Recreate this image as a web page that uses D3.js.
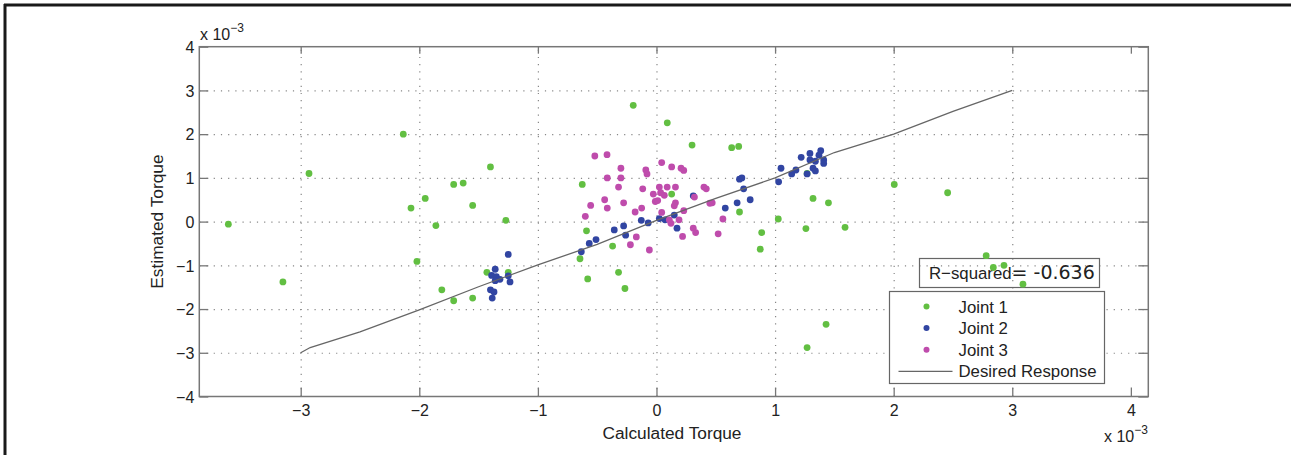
<!DOCTYPE html>
<html>
  <head>
    <meta charset="utf-8">
    <title>Estimated vs calculated torque</title>
    <script src="https://d3js.org/d3.v7.min.js" charset="utf-8"></script>
    <style>
      body{
        margin: 0;
        background: white;
        font-family: 'Liberation Sans', Arial, sans-serif;
      }
      .axis path{ display: none; }
      .axis line{ stroke: #777; stroke-width: 1.3; }
      .grid line{
        stroke: #888;
        stroke-width: 1.2;
        stroke-dasharray: 1.2 6;
      }
      .grid path{ display: none; }
    </style>
  </head>
  <body>
    <div id="chart"></div>
    <script>

    //********************
    // data (values in units of 1e-3)
    //********************

    var xTicks = [-3, -2, -1, 0, 1, 2, 3, 4];
    var yTicks = [-4, -3, -2, -1, 0, 1, 2, 3, 4];

    var joint1X = [-3.61, -2.93, -2.135, -2.07, -3.15, -2.02, -0.196, 0.091, 0.30, -1.40, -1.71, -1.63, -1.95, -1.55,
                   -0.626, 0.128, -1.86, -1.27, -0.59, -0.37, -0.645, -1.43, -1.25, -0.32, -0.58, -0.266, -1.81, -1.55,
                   -1.71, 0.634, 0.693, 1.27, 2.005, 2.455, 1.32, 1.45, 0.70, 1.027, 1.26, 1.59, 0.887, 0.875,
                   2.78, 2.84, 2.93, 3.09, 1.43, 1.27];
    var joint1Y = [-0.06, 1.10, 2.0, 0.31, -1.38, -0.91, 2.66, 2.26, 1.75, 1.25, 0.85, 0.88, 0.53, 0.37,
                   0.85, 0.63, -0.09, 0.03, -0.21, -0.56, -0.85, -1.16, -1.16, -1.16, -1.31, -1.53, -1.56, -1.75,
                   -1.81, 1.69, 1.72, 1.10, 0.85, 0.66, 0.53, 0.43, 0.22, 0.06, -0.16, -0.13, -0.25, -0.63,
                   -0.78, -1.05, -1.0, -1.43, -2.35, -2.88];

    var joint2X = [0.31, -0.128, -0.07, 0.024, 0.072, 0.15, 0.173, -0.277, -0.356, -0.26, -0.51, -0.567, -0.634,
                   -1.25, -1.36, -1.39, -1.35, -1.32, -1.36, -1.25, -1.235, -1.40, -1.37, -1.385,
                   1.22, 1.294, 1.385, 1.37, 1.294, 1.34, 1.41, 1.41, 1.05, 1.176, 1.14, 1.32, 1.34, 1.27,
                   1.03, 0.70, 0.72, 0.735, 0.79, 0.68, 0.58];
    var joint2Y = [0.59, 0.03, -0.03, 0.07, 0.04, 0.15, -0.15, -0.10, -0.19, -0.31, -0.41, -0.50, -0.69,
                   -0.75, -1.09, -1.23, -1.26, -1.32, -1.35, -1.24, -1.38, -1.56, -1.61, -1.75,
                   1.47, 1.56, 1.62, 1.52, 1.41, 1.38, 1.41, 1.33, 1.22, 1.18, 1.09, 1.22, 1.16, 1.09,
                   0.91, 0.97, 1.0, 0.75, 0.50, 0.43, 0.31];

    var joint3X = [-0.52, -0.417, -0.30, -0.09, -0.08, 0.044, 0.128, 0.207, 0.23, -0.415, -0.30, -0.32, -0.116,
                   0.024, 0.09, 0.16, 0.035, 0.066, -0.027, 0.40, 0.42, -0.437, -0.277, -0.01, 0.01, 0.16, 0.15,
                   0.32, 0.45, 0.47, -0.555, -0.415, -0.125, -0.18, -0.60, 0.044, 0.23, 0.108, 0.122, 0.19,
                   0.31, 0.33, 0.52, -0.17, 0.22, -0.22, -0.06, 0.56];
    var joint3Y = [1.50, 1.53, 1.22, 1.18, 1.09, 1.35, 1.25, 1.22, 1.17, 1.0, 1.0, 0.79, 0.75,
                   0.79, 0.79, 0.79, 0.66, 0.60, 0.63, 0.79, 0.75, 0.50, 0.43, 0.46, 0.48, 0.43, 0.36,
                   0.56, 0.42, 0.43, 0.37, 0.31, 0.31, 0.22, 0.12, 0.21, 0.25, 0.04, -0.04, 0.04,
                   -0.15, -0.25, -0.28, -0.35, -0.34, -0.53, -0.65, 0.06];

    var desiredX = [-3, -2.92, -2.5, -2, -1.5, -1, -0.5, 0, 0.5, 1, 1.5, 2, 2.5, 3];
    var desiredY = [-3, -2.88, -2.52, -2.02, -1.49, -0.99, -0.52, 0.03, 0.53, 1.0, 1.58, 2.0, 2.52, 3.0];

    var seriesNames = ["Joint 1", "Joint 2", "Joint 3", "Desired Response"];
    var rSquared = -0.636;


    //********************
    // setup, scales, etc.
    //********************

    var width = 1291,
        height = 455,
        margin = {top: 46.7, right: 142.7, bottom: 58.5, left: 199.3};

    var svg = d3.select("#chart").append("svg").attr("width", width).attr("height", height);

    // page frame (top and left edges of the figure)
    svg.append("line").attr("x1", 4).attr("x2", width).attr("y1", 5).attr("y2", 5)
        .attr("stroke", "#1a1a1a").attr("stroke-width", 3);
    svg.append("line").attr("x1", 5).attr("x2", 5).attr("y1", 4).attr("y2", height)
        .attr("stroke", "#1a1a1a").attr("stroke-width", 3);

    var xScale = d3.scaleLinear().domain([-3.855, 4.147]).range([margin.left, width - margin.right]);
    var yScale = d3.scaleLinear().domain([-4, 4]).range([height - margin.bottom, margin.top]);

    var plotW = width - margin.right - margin.left,
        plotH = height - margin.bottom - margin.top;

    var fmt = d => d < 0 ? "\u2212" + Math.abs(d) : d;

    // grid
    svg.append("g").attr("class", "grid")
        .attr("transform", `translate(0, ${height - margin.bottom})`)
        .call(d3.axisBottom(xScale).tickValues(xTicks.filter(d => d < 4)).tickSize(-plotH).tickFormat(""));
    svg.append("g").attr("class", "grid")
        .attr("transform", `translate(${margin.left}, 0)`)
        .call(d3.axisLeft(yScale).tickValues(yTicks.filter(d => d > -4 && d < 4)).tickSize(-plotW).tickFormat(""));

    // axes, ticks point inwards
    var xAxis = svg.append("g").attr("class", "axis")
        .attr("transform", `translate(0, ${height - margin.bottom})`)
        .call(d3.axisBottom(xScale).tickValues(xTicks).tickSize(-9).tickFormat(fmt));
    svg.append("g").attr("class", "axis")
        .attr("transform", `translate(0, ${margin.top})`)
        .call(d3.axisTop(xScale).tickValues(xTicks).tickSize(-7).tickFormat(""));
    var yAxis = svg.append("g").attr("class", "axis")
        .attr("transform", `translate(${margin.left}, 0)`)
        .call(d3.axisLeft(yScale).tickValues(yTicks).tickSize(-9).tickPadding(5).tickFormat(fmt));
    svg.append("g").attr("class", "axis")
        .attr("transform", `translate(${width - margin.right}, 0)`)
        .call(d3.axisRight(yScale).tickValues(yTicks).tickSize(-10).tickFormat(""));

    xAxis.selectAll("text")
        .attr("y", 8).attr("dy", "0.71em")
        .style("font-size", "16px").style("font-family", "'Liberation Sans', Arial, sans-serif").attr("fill", "#222");
    yAxis.selectAll("text")
        .attr("dy", "0.36em")
        .style("font-size", "16px").style("font-family", "'Liberation Sans', Arial, sans-serif").attr("fill", "#222");

    // box
    svg.append("rect")
        .attr("x", margin.left).attr("y", margin.top)
        .attr("width", plotW).attr("height", plotH)
        .attr("fill", "none").attr("stroke", "#777").attr("stroke-width", 1.5);

    // exponent labels
    function exponent(x, y) {
        var t = svg.append("text").attr("x", x).attr("y", y)
            .style("font-size", "16px").attr("fill", "#222");
        t.append("tspan").text("x 10");
        t.append("tspan").attr("dy", -8).style("font-size", "12px").text("\u22123");
    }
    exponent(200, 40);
    exponent(1104, 442);

    // axis labels
    svg.append("text")
        .attr("x", 672).attr("y", 439)
        .attr("text-anchor", "middle")
        .style("font-size", "17.3px").attr("fill", "#222")
        .text("Calculated Torque");
    svg.append("text")
        .attr("transform", `translate(163, ${yScale(0)}) rotate(-90)`)
        .attr("text-anchor", "middle")
        .style("font-size", "17.3px").attr("fill", "#222")
        .text("Estimated Torque");


    //**************
    // points
    //**************

    var colors = ["#62bf42", "#3145a2", "#bf4cac", "#666"];

    var joints = [
        {x: joint1X, y: joint1Y},
        {x: joint2X, y: joint2Y},
        {x: joint3X, y: joint3Y}
    ];

    // R-squared box sits under the points (no fill)
    var rBox = svg.append("g");
    rBox.append("rect")
        .attr("x", 919.5).attr("y", 258.5).attr("width", 180).attr("height", 29)
        .attr("fill", "none").attr("stroke", "#666").attr("stroke-width", 1.2);
    var rText = rBox.append("text").attr("x", 929).attr("y", 279).attr("fill", "#222");
    rText.append("tspan").style("font-size", "16.8px").text("R\u2212squared");
    rText.append("tspan").style("font-size", "19px").style("font-family", "'DejaVu Sans', sans-serif")
        .text("= " + d3.format(".3f")(rSquared).replace("\u2212", "-"));

    joints.forEach(function(j, k) {
        svg.append("g")
            .selectAll("circle")
            .data(j.x.map((d, i) => [d, j.y[i]]))
            .enter().append("circle")
            .attr("cx", d => xScale(d[0]))
            .attr("cy", d => yScale(d[1]))
            .attr("r", 3.4)
            .attr("fill", colors[k]);
    });

    var line = d3.line()
        .x(d => xScale(d[0]))
        .y(d => yScale(d[1]));

    svg.append("path")
        .datum(desiredX.map((d, i) => [d, desiredY[i]]))
        .attr("fill", "none")
        .attr("stroke", "#666")
        .attr("stroke-width", 1.3)
        .attr("d", line);


    //******
    // legend
    //******

    var legend = svg.append("g").attr("transform", "translate(889.5, 291.5)");
    legend.append("rect")
        .attr("width", 215).attr("height", 92)
        .attr("fill", "white").attr("stroke", "#666").attr("stroke-width", 1.2);

    legend.selectAll("circle.legend")
        .data(seriesNames.slice(0, 3))
        .enter().append("circle")
        .attr("class", "legend")
        .attr("cx", 37)
        .attr("cy", (d, i) => 15 + i * 21.6)
        .attr("r", 3)
        .attr("fill", (d, i) => colors[i]);

    legend.append("line")
        .attr("x1", 9).attr("x2", 63)
        .attr("y1", 15 + 3 * 21.6).attr("y2", 15 + 3 * 21.6)
        .attr("stroke", "#666").attr("stroke-width", 1.2);

    legend.selectAll("text.legend")
        .data(seriesNames)
        .enter().append("text")
        .attr("class", "legend")
        .attr("x", 69)
        .attr("y", (d, i) => 21 + i * 21.6)
        .attr("fill", "#222")
        .style("font-size", "16.8px")
        .text(d => d);

    </script>
  </body>
</html>
